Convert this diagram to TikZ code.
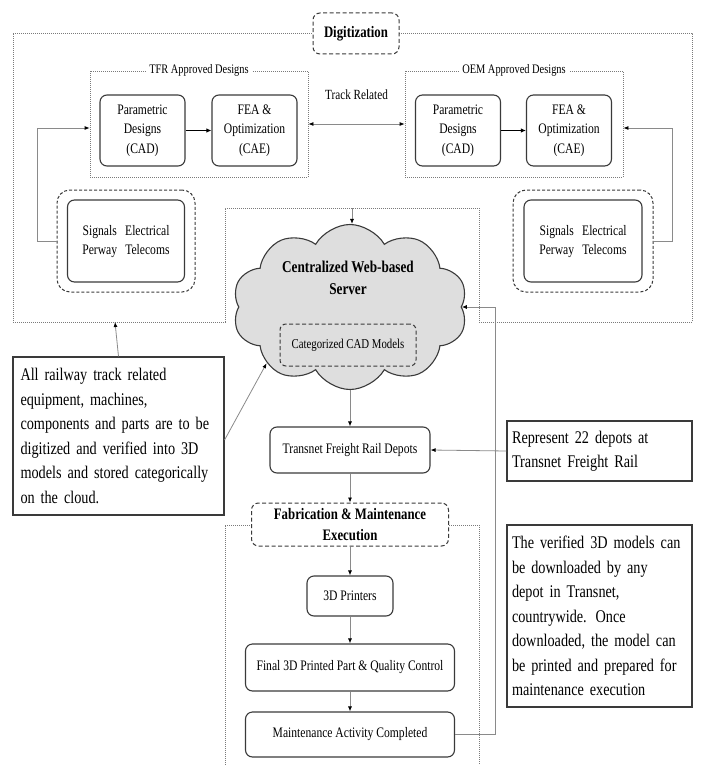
\documentclass[tikz,border=0pt]{standalone}
\usepackage{fontspec}
\setmainfont{Liberation Serif}[FakeStretch=0.8]
\usepackage{xcolor}
\usepackage{tikz}
\usetikzlibrary{positioning,arrows.meta,shapes.symbols}
\definecolor{boxgray}{HTML}{3A3A3A}
\definecolor{linegray}{HTML}{8A8A8A}
\definecolor{dotgray}{HTML}{7A7A7A}
\definecolor{cloudgray}{HTML}{DEDEDE}

\begin{document}
\begin{tikzpicture}[x=1pt,y=-1pt,every node/.style={on grid},
    rbox/.style={draw=boxgray,line width=1.1pt,rounded corners=7pt,align=center,inner sep=2pt,font=\fontsize{14.5}{19.5}\selectfont},
    hdbox/.style={draw=boxgray,line width=1pt,dash pattern=on 4pt off 2.5pt,rounded corners=7pt,fill=white,align=center,font=\bfseries\fontsize{16}{21}\selectfont},
    sigbox/.style={draw=boxgray,line width=1pt,dash pattern=on 3pt off 2pt,rounded corners=13pt},
    grp/.style={draw=dotgray,line width=0.8pt,dash pattern=on 1pt off 1pt},
    ttl/.style={fill=white,inner sep=3pt,font=\fontsize{13}{15}\selectfont},
    note/.style={draw=boxgray,line width=1.1pt,align=left,font=\fontsize{17.8}{24.5}\selectfont},
    conn/.style={draw=linegray,line width=0.8pt,-{Latex[length=5pt,width=4pt,color=black]}}]
    \useasboundingbox (0,0) rectangle (701,765);
    \draw[grp] (13,33) -- (692,33) -- (692,322) -- (479,322) -- (479,208) -- (225,208) -- (225,322) -- (13,322) -- cycle;
    \node[hdbox,minimum width=86pt,minimum height=41pt] (digi) at (356,33.5) {Digitization};
    \node[grp,minimum width=218pt,minimum height=106pt] (tfr) at (199,124) {};
    \node[ttl] (tfrttl) at (tfr.north) {TFR Approved Designs};
    \node[grp,minimum width=218pt,minimum height=106pt,right of=tfr,node distance=315pt] (oem) {};
    \node[ttl] (oemttl) at (oem.north) {OEM Approved Designs};
    \node[rbox,minimum width=85pt,minimum height=71pt] (tfrcad) at (142.5,130.5) {Parametric\\Designs\\(CAD)};
    \node[rbox,minimum width=85pt,minimum height=71pt,right of=tfrcad,node distance=112pt] (tfrfea) {FEA \&\\Optimization\\(CAE)};
    \node[rbox,minimum width=85pt,minimum height=71pt,right of=tfrfea,node distance=203.5pt] (oemcad) {Parametric\\Designs\\(CAD)};
    \node[rbox,minimum width=85pt,minimum height=71pt,right of=oemcad,node distance=111pt] (oemfea) {FEA \&\\Optimization\\(CAE)};
    \node[sigbox,minimum width=138pt,minimum height=102pt] (lsig) at (126,241) {};
    \node[rbox,minimum width=117pt,minimum height=82pt] (lsigin) at (lsig) {\begin{tabular}{@{}c@{\hspace{8pt}}c@{}}Signals & Electrical\\Perway & Telecoms\end{tabular}};
    \node[sigbox,minimum width=140pt,minimum height=102pt,right of=lsig,node distance=457pt] (rsig) {};
    \node[rbox,minimum width=118pt,minimum height=82pt] (rsigin) at (rsig) {\begin{tabular}{@{}c@{\hspace{8pt}}c@{}}Signals & Electrical\\Perway & Telecoms\end{tabular}};
    \draw[conn,{Latex[length=5pt,width=4pt,color=black]}-{Latex[length=5pt,width=4pt,color=black]}] (tfr.east) -- node[above=21pt,font=\fontsize{14}{16}\selectfont] (trk) {Track Related} (oem.west);
    \draw[draw=black,line width=1.2pt,-{Latex[length=5pt,width=4.5pt]}] (tfrcad) -- (tfrfea);
    \draw[draw=black,line width=1.2pt,-{Latex[length=5pt,width=4.5pt]}] (oemcad) -- (oemfea);
    \draw[conn] (lsig.west) -- ++(-19,0) |- ([yshift=-4pt]tfr.west);
    \draw[conn] (rsig.east) -- ++(19,0) |- ([yshift=-4pt]oem.east);
    \node[cloud,draw=boxgray,line width=1.1pt,fill=cloudgray,cloud puffs=10,cloud puff arc=120,cloud ignores aspect,minimum width=235pt,minimum height=165pt] (server) at (350,307) {};
    \node[align=center,font=\bfseries\fontsize{16.5}{22}\selectfont] (srvtxt) at (348,278) {Centralized Web-based\\Server};
    \node[draw=boxgray,line width=1pt,dash pattern=on 4pt off 2.5pt,rounded corners=6pt,minimum width=136pt,minimum height=42pt,font=\fontsize{13.5}{16}\selectfont] (catcad) at (348,345) {Categorized CAD Models};
    \coordinate (srvtop) at (352,208);
    \draw[conn] (srvtop) -- (srvtop |- server.north);
    \node[rbox,minimum width=160pt,minimum height=46pt,below of=server,node distance=143pt] (depots) {Transnet Freight Rail Depots};
    \draw[conn] (server.south) -- (depots.north);
    \node[note,inner xsep=7.5pt,text width=196pt,minimum height=158pt] (railnote) at (118.5,436) {All railway track related\\equipment, machines,\\components and parts are to be\\digitized and verified into 3D\\models and stored categorically\\on the cloud.};
    \coordinate (digibot) at (115,322);
    \draw[conn] (railnote.north) -- (digibot);
    \draw[conn] ([yshift=-4pt]railnote.east) -- (server.214);
    \node[note,inner xsep=5pt,text width=175pt,minimum height=60pt] (depotnote) at (599.5,451) {Represent 22 depots at\\Transnet Freight Rail};
    \draw[conn] (depotnote.west) -- (depots.east);
    \node[note,inner xsep=5pt,text width=175pt,minimum height=182pt,below of=depotnote,node distance=165pt] (dlnote) {The verified 3D models can\\be downloaded by any\\depot in Transnet,\\countrywide. Once\\downloaded, the model can\\be printed and prepared for\\maintenance execution};
    \draw[grp] (225,765) -- (225,525) -- (479,525) -- (479,765);
    \node[hdbox,minimum width=197pt,minimum height=43pt,below of=depots,node distance=74.5pt] (fab) {Fabrication \& Maintenance\\Execution};
    \node[rbox,minimum width=86pt,minimum height=40pt,below of=fab,node distance=71.5pt] (printers) {3D Printers};
    \node[rbox,minimum width=209pt,minimum height=47pt,below of=printers,node distance=71.5pt] (final) {Final 3D Printed Part \& Quality Control};
    \node[rbox,minimum width=209pt,minimum height=45pt,below of=final,node distance=67pt] (maint) {Maintenance Activity Completed};
    \draw[conn] (depots) -- (fab);
    \draw[conn] (fab) -- (printers);
    \draw[conn] (printers) -- (final);
    \draw[conn] (final) -- (maint);
    \draw[conn] (maint.east) -- ++(40,0) |- (server.east);
\end{tikzpicture}
\end{document}
